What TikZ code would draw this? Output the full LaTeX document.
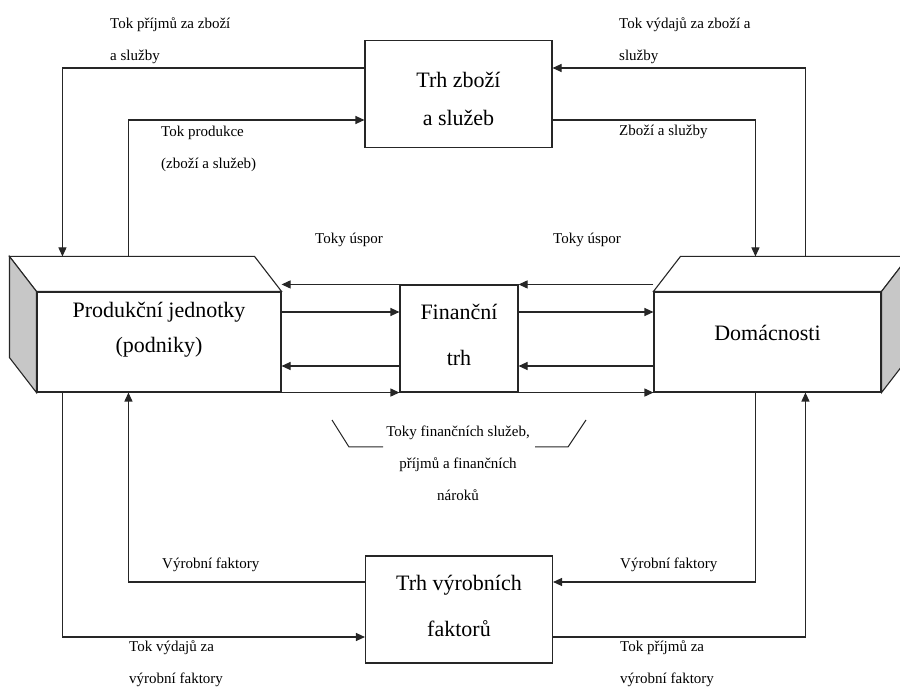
\documentclass[tikz,border=0pt]{standalone}
\usepackage{fontspec}
\setmainfont{Liberation Serif}
\usetikzlibrary{arrows.meta,positioning,calc}
\tikzset{
  >={Triangle[length=9pt,width=8pt]},
  flow/.style={->, line width=1.1pt, draw=black!85},
  market/.style={draw=black!85, line width=1.1pt, align=center, minimum width=187pt, minimum height=107pt, inner sep=0pt},
  sector/.style={draw=black!85, line width=1.1pt, fill=white, minimum height=100pt, inner sep=0pt},
  face/.style={draw=black!85, line width=1.1pt, fill=white},
  sideface/.style={draw=black!85, line width=1.1pt, fill=black!22},
  boxtext/.style={align=center, inner sep=0pt, font=\fontsize{22}{35}\selectfont},
  flowtext/.style={align=left, anchor=west, inner sep=0pt, font=\fontsize{15}{32}\selectfont},
}

\begin{document}
\begin{tikzpicture}[x=1pt, y=1pt, line join=miter]
  \clip (0,0) rectangle (900,689);

  % sectors and markets
  \node[sector, minimum width=244pt] (firms) at (159,347) {};
  \node[sector, minimum width=227pt] (homes) at (767.5,347) {};
  \node[market, minimum width=118pt] (fin) at (459,350.5) {};
  \node[market] (goods) at (458.5,595) {};
  \node[market] (factors) at (459,79.5) {};

  \node[boxtext] (firmsname) at ($(firms)+(0,12)$) {Produkční jednotky\\(podniky)};
  \node[boxtext] (homesname) at ($(homes)+(0,9)$) {Domácnosti};
  \node[boxtext, font=\fontsize{22}{46}\selectfont] (finname) at ($(fin)+(0,4)$) {Finanční\\trh};
  \node[boxtext, font=\fontsize{22}{38}\selectfont] (goodsname) at ($(goods)+(0,-5)$) {Trh zboží\\a služeb};
  \node[boxtext, font=\fontsize{22}{46}\selectfont] (factorsname) at ($(factors)+(0,4)$) {Trh výrobních\\faktorů};

  % 3d faces
  \draw[face] (firms.north west) -- ++(-27,35) -- ($(firms.north east)+(-27,35)$) -- (firms.north east) -- cycle;
  \draw[sideface] (firms.north west) -- ++(-27,35) -- ($(firms.south west)+(-27,35)$) -- (firms.south west) -- cycle;
  \draw[face] (homes.north west) -- ++(27,35) -- ($(homes.north east)+(27,35)$) -- (homes.north east) -- cycle;
  \draw[sideface] (homes.north east) -- ++(27,35) -- ($(homes.south east)+(27,35)$) -- (homes.south east) -- cycle;

  % goods market
  \draw[flow] ([yshift=26pt]goods.west) -| ($(firms.north west)+(26,35)$);
  \draw[flow] ($(firms.north west)+(92,35)$) |- ([yshift=-26pt]goods.west);
  \draw[flow] ($(homes.north west)+(152,35)$) |- ([yshift=26pt]goods.east);
  \draw[flow] ([yshift=-26pt]goods.east) -| ($(homes.north west)+(102,35)$);

  % factor market
  \draw[flow] ($(firms.south west)+(26,0)$) |- ([yshift=-27.5pt]factors.west);
  \draw[flow] ([yshift=27.5pt]factors.west) -| ($(firms.south west)+(92,0)$);
  \draw[flow] ($(homes.south west)+(102,0)$) |- ([yshift=27.5pt]factors.east);
  \draw[flow] ([yshift=-27.5pt]factors.east) -| ($(homes.south west)+(152,0)$);

  % financial market
  \coordinate (l2) at ($(fin.west)+(0,26.5)$);
  \coordinate (l3) at ($(fin.west)+(0,-27.5)$);
  \coordinate (r2) at ($(fin.east)+(0,26.5)$);
  \coordinate (r3) at ($(fin.east)+(0,-27.5)$);
  \draw[flow] (fin.north west) -- (fin.north west -| firms.east);
  \draw[flow] (l2 -| firms.east) -- (l2);
  \draw[flow] (l3) -- (l3 -| firms.east);
  \draw[flow] (fin.south west -| firms.east) -- (fin.south west);
  \draw[flow] (fin.north east -| homes.west) -- (fin.north east);
  \draw[flow] (r2) -- (r2 -| homes.west);
  \draw[flow] (r3 -| homes.west) -- (r3);
  \draw[flow] (fin.south east) -- (fin.south east -| homes.west);

  % labels
  \node[flowtext] (incgoods) at (110,648) {Tok příjmů za zboží\\a služby};
  \node[flowtext] (expgoods) at (619,648) {Tok výdajů za zboží a\\služby};
  \node[flowtext] (output) at (161,540) {Tok produkce\\(zboží a služeb)};
  \node[flowtext] (goodsflow) at (619,557) {Zboží a služby};
  \node[flowtext] (savl) at (315,449) {Toky úspor};
  \node[flowtext] (savr) at (553,449) {Toky úspor};
  \node[flowtext] (factl) at (162,124) {Výrobní faktory};
  \node[flowtext] (factr) at (620,124) {Výrobní faktory};
  \node[flowtext] (expfact) at (129,25.5) {Tok výdajů za\\výrobní faktory};
  \node[flowtext] (incfact) at (620,25.5) {Tok příjmů za\\výrobní faktory};
  \node[flowtext, align=center, anchor=center] (finflows) at (458,226) {Toky finančních služeb,\\příjmů a finančních\\nároků};

  \draw[line width=1pt, draw=black!85] (332,269) -- (349,242) -- (383,242);
  \draw[line width=1pt, draw=black!85] (535,242) -- (568,242) -- (586,269);
\end{tikzpicture}
\end{document}
